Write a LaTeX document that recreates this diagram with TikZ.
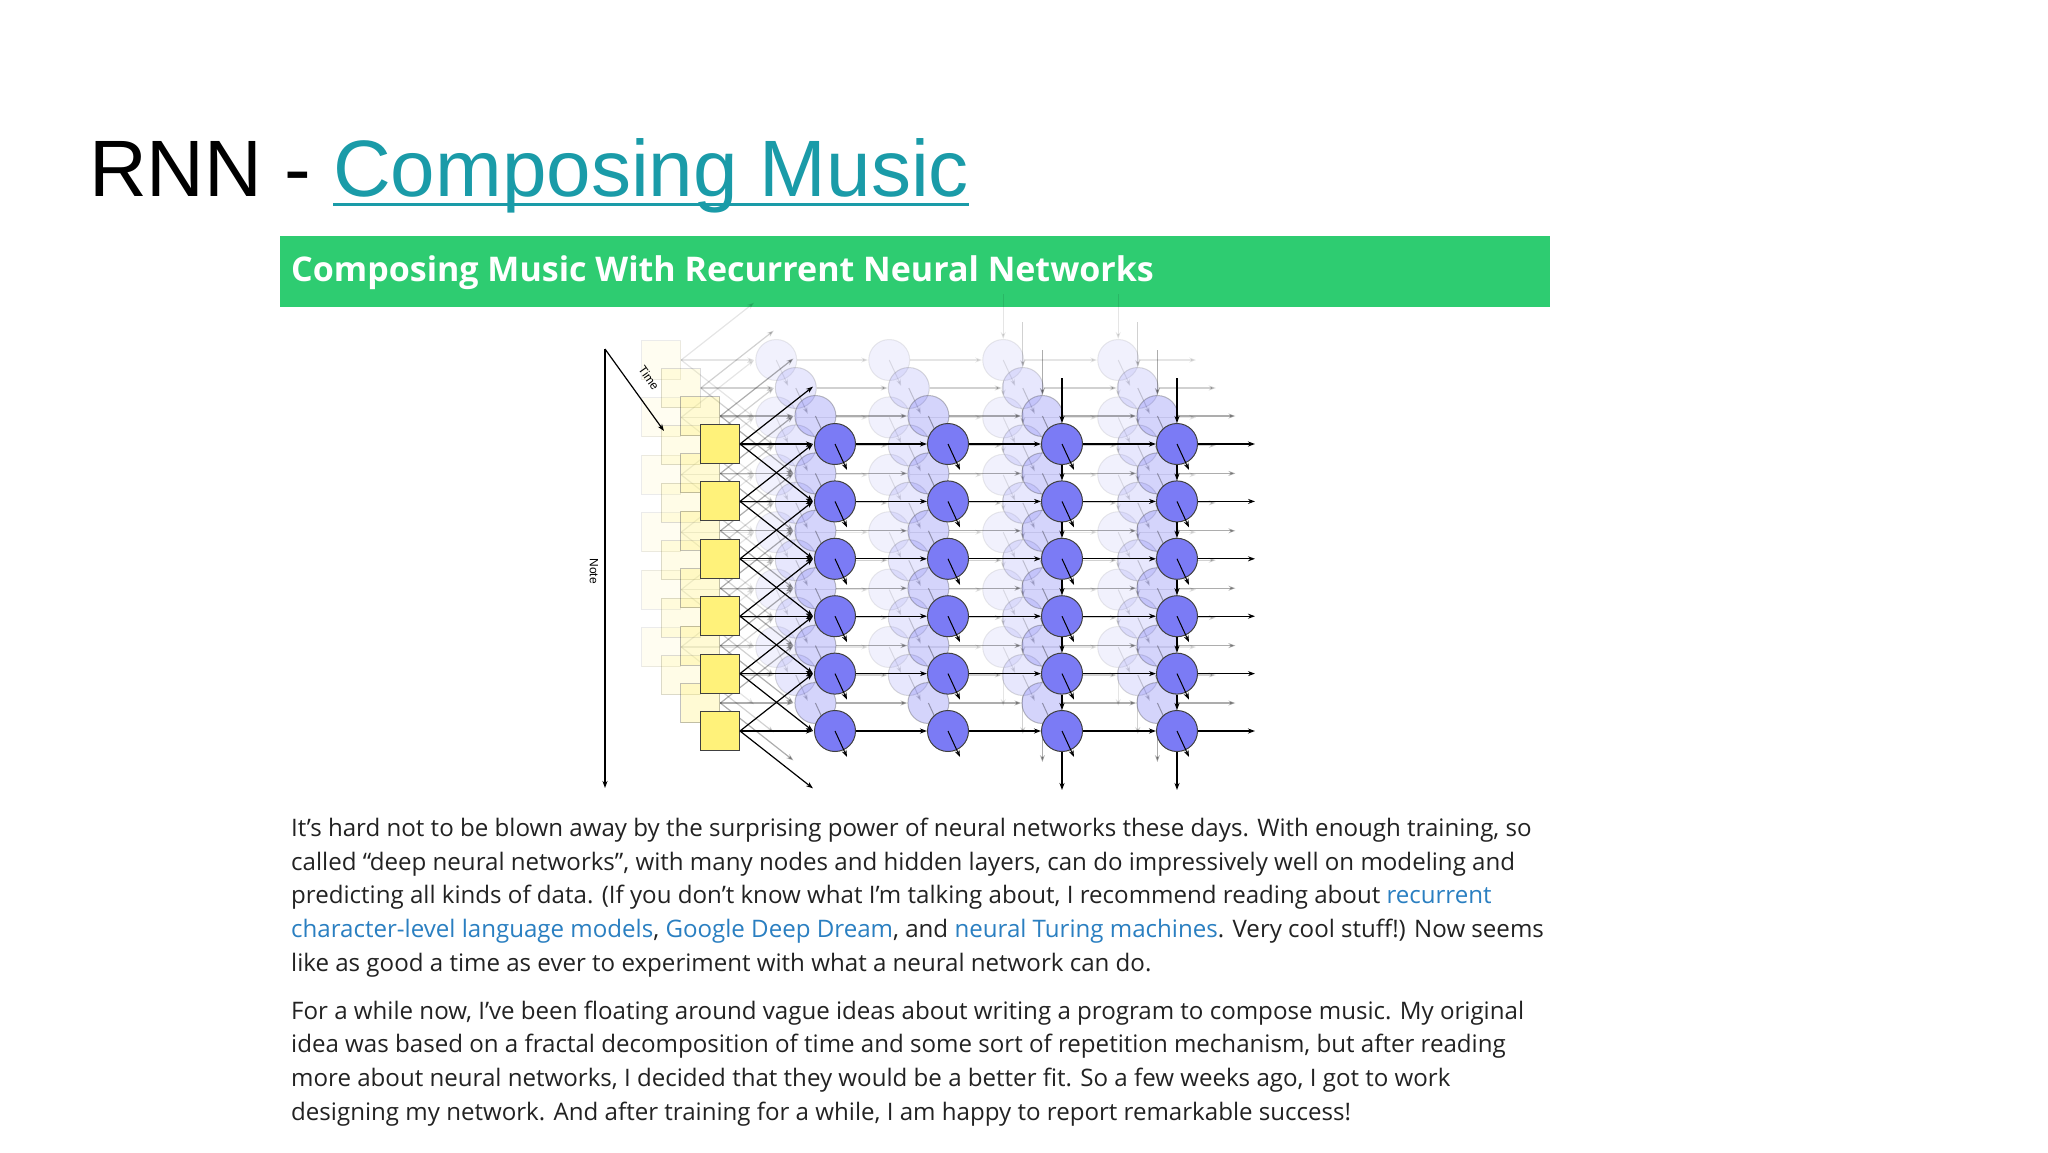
\documentclass[tikz,border=0pt]{standalone}
\usepackage{fontspec}
\setmainfont{Open Sans}
\newfontfamily\titlefont{Liberation Sans}
\newfontfamily\headfont{Open Sans}
\usetikzlibrary{arrows.meta}
\definecolor{hdgreen}{HTML}{2ECC71}
\definecolor{titlelink}{HTML}{1A9BA8}
\definecolor{lnk}{HTML}{2A7FC1}
\definecolor{cfill}{HTML}{7B7BF5}
\definecolor{sfill}{HTML}{FFF27A}
\definecolor{bodytxt}{HTML}{222222}
\tikzset{
  sq/.style={draw=black!75,fill=sfill,minimum width=39pt,minimum height=39pt,inner sep=0pt,line width=1pt},
  cir/.style={draw=black!75,fill=cfill,circle,minimum size=41pt,inner sep=0pt,line width=1pt},
  ar/.style={-{Stealth[length=7pt,width=5pt]},line width=1.2pt},
  line/.style={anchor=west,inner sep=0pt,font=\fontsize{24.1}{28}\selectfont,text=bodytxt},
}
\newcommand{\lk}[1]{\textcolor{lnk}{#1}}
\begin{document}
\begin{tikzpicture}[x=1pt,y=-1pt]
\useasboundingbox (0,0) rectangle (2048,1152);
\fill[white] (0,0) rectangle (2048,1152);
% title
\node[anchor=base west,inner sep=0pt,font=\titlefont\fontsize{80}{96}\selectfont] (title) at (89,196)
  {RNN -};
\node[anchor=base west,inner sep=0pt,text=titlelink,font=\titlefont\fontsize{80}{96}\selectfont] (tlink) at (333,196)
  {Composing Music};
\draw[titlelink,line width=3pt] ([yshift=-8pt]tlink.base west) -- ([yshift=-8pt]tlink.base east);
% header
\fill[hdgreen] (280,236) rectangle (1550,307);
\node[anchor=west,inner sep=0pt,text=white,font=\headfont\bfseries\fontsize{34}{40}\selectfont] (head) at (291,273)
  {Composing Music With Recurrent Neural Networks};
% diagram layers
\foreach \l/\op in {3/0.1,2/0.18,1/0.32,0/1}{
 \begin{scope}[shift={(-19.6*\l,-28*\l)},opacity=\op]
  \foreach \i in {-1,...,6}{
    \coordinate (in-\l-\i) at (813,444+57.4*\i);
  }
  \foreach \i in {0,...,5}{
    \node[sq] (sq-\l-\i) at (720,444+57.4*\i) {};
    \foreach \j/\x in {0/835,1/948,2/1062,3/1177}{
      \node[cir] (c-\l-\j-\i) at (\x,444+57.4*\i) {};
    }
  }
  \foreach \i [evaluate=\i as \p using int(\i-1), evaluate=\i as \n using int(\i+1)] in {0,...,5}{
    \draw[ar] (sq-\l-\i.east) -- (in-\l-\i);
    \draw[ar] (sq-\l-\i.east) -- (in-\l-\p);
    \draw[ar] (sq-\l-\i.east) -- (in-\l-\n);
    \draw[ar] (c-\l-0-\i) -- (c-\l-1-\i);
    \draw[ar] (c-\l-1-\i) -- (c-\l-2-\i);
    \draw[ar] (c-\l-2-\i) -- (c-\l-3-\i);
    \coordinate (o-\l-\i) at (1255,444+57.4*\i);
    \draw[ar] (c-\l-3-\i) -- (o-\l-\i);
    \foreach \j in {0,1,2,3}{
      \coordinate (d-\l-\j-\i) at ([shift={(12,26)}]c-\l-\j-\i.center);
      \draw[ar,line width=1pt] (c-\l-\j-\i.center) -- (d-\l-\j-\i);
    }
  }
  \foreach \j in {2,3}{
    \coordinate (vt-\l-\j) at ([yshift=45pt]c-\l-\j-0.north);
    \coordinate (vb-\l-\j) at ([yshift=-38pt]c-\l-\j-5.south);
    \draw[ar] (vt-\l-\j) -- (c-\l-\j-0.north);
    \draw[ar] (c-\l-\j-5.south) -- (vb-\l-\j);
    \foreach \i [evaluate=\i as \n using int(\i+1)] in {0,...,4}{
      \draw[ar] (c-\l-\j-\i.south) -- (c-\l-\j-\n.north);
    }
  }
 \end{scope}
}
% axes
\coordinate (ax0) at (605,349);
\coordinate (ax1) at (605,788);
\coordinate (tm1) at (664,431);
\draw[ar] (ax0) -- (ax1);
\draw[ar] (ax0) -- (tm1);
\node[font=\titlefont\fontsize{12}{14}\selectfont,rotate=-55] (tlab) at (649,378) {Time};
\node[font=\titlefont\fontsize{12}{14}\selectfont,rotate=-90] (nlab) at (594,571) {Note};
% body
\node[line] (l1) at (291,830) {It’s hard not to be blown away by the surprising power of neural networks these days. With enough training, so};
\node[line] (l2) at (291,864) {called “deep neural networks”, with many nodes and hidden layers, can do impressively well on modeling and};
\node[line] (l3) at (291,897) {predicting all kinds of data. (If you don’t know what I’m talking about, I recommend reading about \lk{recurrent}};
\node[line] (l4) at (291,931) {\lk{character-level language models}, \lk{Google Deep Dream}, and \lk{neural Turing machines}. Very cool stuff!) Now seems};
\node[line] (l5) at (291,965) {like as good a time as ever to experiment with what a neural network can do.};
\node[line] (m1) at (291,1013) {For a while now, I’ve been floating around vague ideas about writing a program to compose music. My original};
\node[line] (m2) at (291,1046) {idea was based on a fractal decomposition of time and some sort of repetition mechanism, but after reading};
\node[line] (m3) at (291,1080) {more about neural networks, I decided that they would be a better fit. So a few weeks ago, I got to work};
\node[line] (m4) at (291,1114) {designing my network. And after training for a while, I am happy to report remarkable success!};
\end{tikzpicture}
\end{document}
